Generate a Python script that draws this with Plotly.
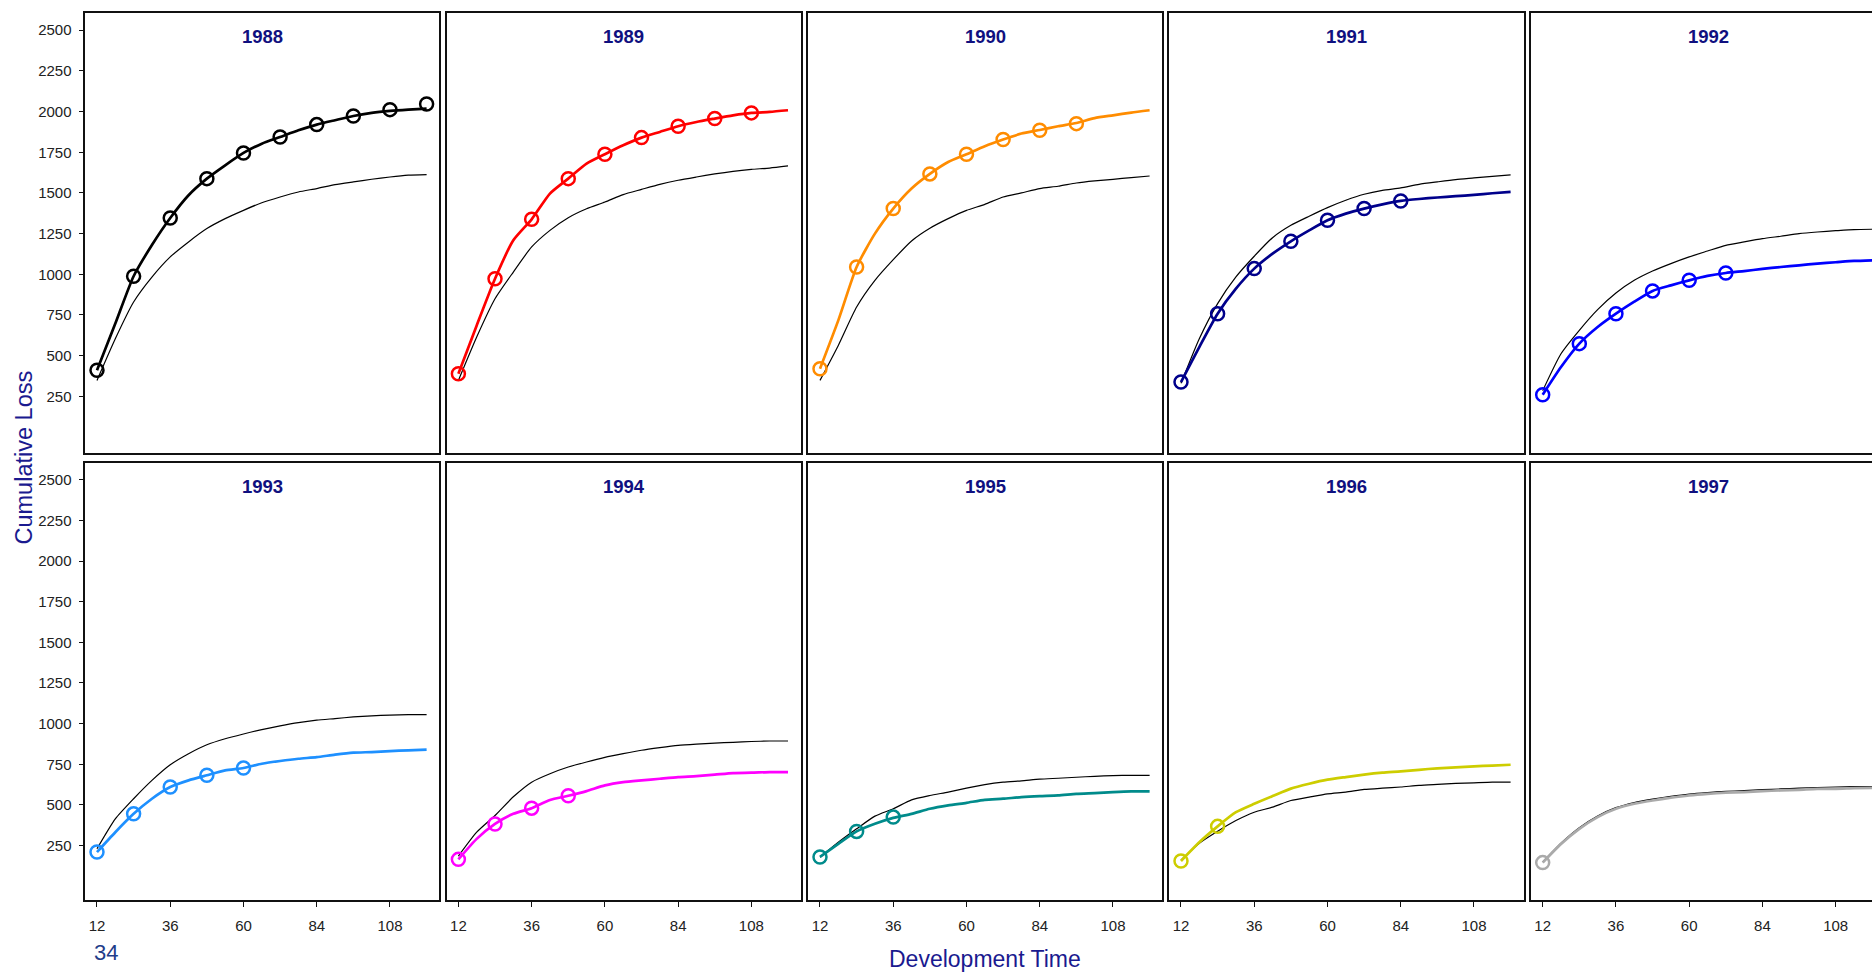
import plotly.graph_objects as go

# ---------------- data ----------------
years = ["1988", "1989", "1990", "1991", "1992", "1993", "1994", "1995", "1996", "1997"]
colors = ["#000000", "#FF0000", "#FF8C00", "#00008B", "#0000FF",
          "#1E90FF", "#FF00FF", "#008B8B", "#CDCD00", "#AAAAAA"]

line_months = [12, 18, 24, 30, 36, 42, 48, 54, 60, 66, 72, 78, 84, 90, 96, 102, 108, 114, 120]
obs_months = [12, 24, 36, 48, 60, 72, 84, 96, 108, 120]

obs_1988 = [410, 988, 1346, 1588, 1746, 1844, 1920, 1973, 2012, 2047]
obs_1989 = [389, 973, 1338, 1588, 1738, 1840, 1910, 1957, 1992]
obs_1990 = [420, 1045, 1404, 1617, 1738, 1828, 1885, 1926]
obs_1991 = [338, 758, 1035, 1203, 1332, 1404, 1451]
obs_1992 = [260, 574, 758, 898, 963, 1008]
obs_1993 = [210, 445, 610, 682, 727]
obs_1994 = [165, 383, 480, 556]
obs_1995 = [180, 337, 425]
obs_1996 = [155, 368]
obs_1997 = [145]

fit_1988 = [410, 697, 988, 1180, 1346, 1486, 1588, 1670, 1746, 1803, 1844, 1885, 1920, 1947, 1973, 1992, 2004, 2012, 2018]
fit_1989 = [389, 686, 973, 1209, 1338, 1496, 1588, 1680, 1738, 1793, 1840, 1875, 1910, 1936, 1957, 1977, 1992, 1998, 2008]
fit_1990 = [420, 717, 1045, 1250, 1404, 1527, 1617, 1690, 1738, 1787, 1828, 1865, 1887, 1910, 1930, 1960, 1977, 1994, 2008]
fit_1991 = [338, 553, 758, 912, 1035, 1127, 1203, 1270, 1332, 1373, 1404, 1430, 1451, 1463, 1472, 1480, 1488, 1498, 1506]
fit_1992 = [260, 430, 574, 676, 758, 832, 898, 932, 963, 990, 1008, 1020, 1033, 1045, 1055, 1066, 1074, 1082, 1086]
fit_1993 = [210, 332, 445, 538, 610, 651, 682, 712, 727, 753, 770, 784, 794, 809, 821, 825, 831, 836, 840]
fit_1994 = [165, 291, 383, 445, 480, 530, 556, 585, 620, 640, 651, 661, 671, 677, 686, 696, 698, 702, 702]
fit_1995 = [180, 260, 337, 384, 420, 445, 476, 497, 513, 531, 538, 548, 554, 558, 568, 573, 579, 583, 583]
fit_1996 = [155, 270, 368, 455, 507, 554, 600, 630, 655, 671, 686, 698, 706, 716, 725, 731, 737, 742, 747]
fit_1997 = [145, 260, 353, 425, 476, 507, 527, 544, 558, 568, 575, 579, 585, 589, 593, 599, 599, 603, 605]

ref_1988 = [348, 604, 830, 983, 1107, 1199, 1281, 1342, 1393, 1440, 1475, 1506, 1527, 1551, 1568, 1584, 1598, 1609, 1613]
ref_1989 = [348, 615, 850, 1014, 1168, 1270, 1348, 1403, 1444, 1490, 1522, 1553, 1578, 1598, 1617, 1633, 1645, 1653, 1666]
ref_1990 = [348, 563, 799, 963, 1090, 1205, 1283, 1342, 1393, 1430, 1475, 1500, 1527, 1541, 1561, 1574, 1584, 1594, 1604]
ref_1991 = [330, 604, 820, 984, 1111, 1225, 1301, 1357, 1410, 1455, 1492, 1516, 1531, 1553, 1568, 1582, 1592, 1602, 1611]
ref_1992 = [285, 512, 656, 783, 885, 963, 1020, 1066, 1107, 1143, 1178, 1199, 1219, 1234, 1250, 1260, 1268, 1275, 1277]
ref_1993 = [230, 414, 538, 651, 747, 815, 870, 907, 936, 963, 986, 1006, 1021, 1031, 1041, 1048, 1052, 1055, 1055]
ref_1994 = [185, 332, 435, 550, 640, 692, 733, 764, 792, 815, 836, 852, 866, 874, 880, 885, 890, 893, 893]
ref_1995 = [178, 270, 353, 431, 476, 531, 558, 579, 603, 625, 640, 648, 658, 664, 670, 676, 680, 682, 682]
ref_1996 = [160, 264, 338, 404, 455, 486, 527, 548, 568, 579, 595, 603, 610, 620, 626, 632, 636, 640, 640]
ref_1997 = [150, 265, 360, 432, 483, 515, 536, 553, 567, 576, 583, 588, 594, 598, 603, 607, 610, 612, 613]

observed = [obs_1988, obs_1989, obs_1990, obs_1991, obs_1992, obs_1993, obs_1994, obs_1995, obs_1996, obs_1997]
fitted = [fit_1988, fit_1989, fit_1990, fit_1991, fit_1992, fit_1993, fit_1994, fit_1995, fit_1996, fit_1997]
reference = [ref_1988, ref_1989, ref_1990, ref_1991, ref_1992, ref_1993, ref_1994, ref_1995, ref_1996, ref_1997]

x_tickvals = [12, 36, 60, 84, 108]
y_tickvals = [250, 500, 750, 1000, 1250, 1500, 1750, 2000, 2250, 2500]

# ---------------- layout geometry (pixels) ----------------
W, H = 1872, 976
col_px = [(85.3, 439.3), (446.7, 801.0), (808.3, 1162.3), (1169.3, 1523.7), (1531.0, 1872.0)]
row_px = [(13.3, 453.3), (462.7, 900.0)]
x_left = 8.17
px_per_month = 3.052
y_ranges = [[-100, 2604], [-85, 2605]]

FONT = "Liberation Sans, Arial, Helvetica, sans-serif"
TITLE_COL = "#10107F"
AXIS_TITLE_COL = "#1A1A8F"

fig = go.Figure()
layout = dict(
    width=W, height=H,
    margin=dict(l=0, r=0, t=0, b=0),
    paper_bgcolor="white", plot_bgcolor="white",
    showlegend=False,
    font=dict(family=FONT, color="#222222"),
    annotations=[],
)

for i, yr in enumerate(years):
    r, c = divmod(i, 5)
    n = i + 1
    xa = "x" if n == 1 else f"x{n}"
    ya = "y" if n == 1 else f"y{n}"
    x0, x1 = col_px[c]
    y0, y1 = row_px[r]
    x_right = x_left + (x1 - x0) / px_per_month

    layout["xaxis" if n == 1 else f"xaxis{n}"] = dict(
        domain=[x0 / W, x1 / W], anchor=ya,
        range=[x_left, x_right],
        showline=True, linecolor="#111111", linewidth=1.5, mirror=True,
        showgrid=False, zeroline=False,
        tickvals=x_tickvals if r == 1 else [],
        ticks="outside" if r == 1 else "", ticklen=5, tickwidth=1.2, tickcolor="#111111",
        showticklabels=(r == 1),
        tickfont=dict(size=15, family=FONT, color="#222222"),
        ticklabelstandoff=6,
    )
    layout["yaxis" if n == 1 else f"yaxis{n}"] = dict(
        domain=[1 - y1 / H, 1 - y0 / H], anchor=xa,
        range=y_ranges[r],
        showline=True, linecolor="#111111", linewidth=1.5, mirror=(c != 4),
        showgrid=False, zeroline=False,
        tickvals=y_tickvals if c == 0 else [],
        ticks="outside" if c == 0 else "", ticklen=5, tickwidth=1.2, tickcolor="#111111",
        showticklabels=(c == 0),
        tickfont=dict(size=15, family=FONT, color="#222222"),
        ticklabelstandoff=4,
    )

    # thin black comparison curve
    fig.add_trace(go.Scatter(
        x=line_months, y=reference[i], mode="lines", xaxis=xa, yaxis=ya,
        line=dict(color="#000000", width=1.2, shape="spline", smoothing=0.6),
        hoverinfo="skip"))
    # coloured fitted curve
    fig.add_trace(go.Scatter(
        x=line_months, y=fitted[i], mode="lines", xaxis=xa, yaxis=ya,
        line=dict(color=colors[i], width=2.7, shape="spline", smoothing=0.6),
        name=yr))
    # observed points
    fig.add_trace(go.Scatter(
        x=obs_months[:len(observed[i])], y=observed[i], mode="markers", xaxis=xa, yaxis=ya,
        marker=dict(symbol="circle-open", size=13, color=colors[i],
                    line=dict(color=colors[i], width=2.5)),
        name=yr))

    layout["annotations"].append(dict(
        text=f"<b>{yr}</b>", xref="paper", yref="paper",
        x=((x0 + x0 + 354) / 2) / W, y=1 - (y0 + 23.4) / H,
        xanchor="center", yanchor="middle", showarrow=False,
        font=dict(size=18.5, family=FONT, color=TITLE_COL)))

layout["annotations"] += [
    dict(text="Cumulative Loss", xref="paper", yref="paper", x=23.5 / W, y=1 - 458 / H,
         textangle=-90, xanchor="center", yanchor="middle", showarrow=False,
         font=dict(size=23.5, family=FONT, color=AXIS_TITLE_COL)),
    dict(text="Development Time", xref="paper", yref="paper", x=985 / W, y=1 - 959 / H,
         xanchor="center", yanchor="middle", showarrow=False,
         font=dict(size=23, family=FONT, color=AXIS_TITLE_COL)),
    dict(text="34", xref="paper", yref="paper", x=106 / W, y=1 - 952 / H,
         xanchor="center", yanchor="middle", showarrow=False,
         font=dict(size=22, family=FONT, color="#1F3D8A")),
]

fig.update_layout(**layout)
fig.write_html(
    "out.html",
    config={"displayModeBar": False},
    post_script="document.body.style.margin='0';document.body.style.padding='0';"
                "document.body.style.overflow='hidden';",
)
